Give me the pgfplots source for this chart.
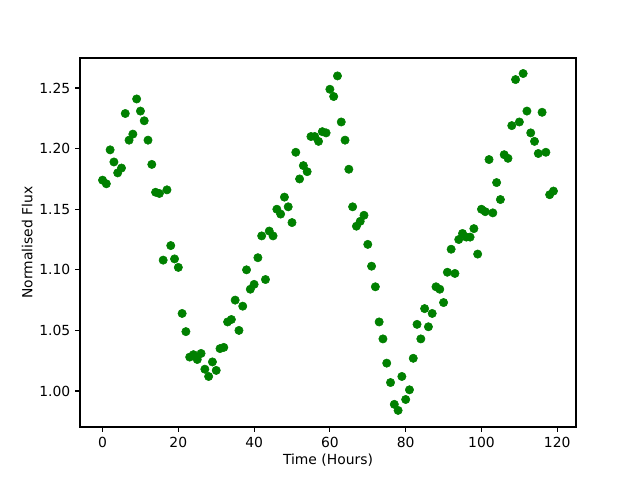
\documentclass[border=0pt]{standalone}
\usepackage{fontspec}
\setmainfont{DejaVu Sans}
\usepackage{pgfplots}
\pgfplotsset{compat=1.18}
\definecolor{mplgreen}{RGB}{0,128,0}
\begin{document}
\begin{tikzpicture}
\begin{axis}[
  at={(0,0)}, anchor=south west,
  scale only axis,
  width=357.12pt, height=265.68pt,
  xmin=-5.95, xmax=124.95,
  ymin=0.9703, ymax=1.2748,
  xtick={0,20,40,60,80,100,120},
  ytick={1.00,1.05,1.10,1.15,1.20,1.25},
  yticklabel style={/pgf/number format/.cd, fixed, fixed zerofill, precision=2},
  /pgf/number format/assume math mode=true,
  tick align=outside,
  tick pos=left,
  major tick length=3.5pt,
  tick style={black, line width=0.8pt},
  axis line style={line width=0.8pt},
  ticklabel style={font=\fontsize{10}{12}\selectfont},
  label style={font=\fontsize{10}{12}\selectfont},
  xlabel={Time (Hours)},
  ylabel={Normalised Flux},
  xlabel style={yshift=2pt},
  ylabel style={yshift=-2pt},
]
\addplot[only marks, mark=*, mark size=3pt, mplgreen, mark options={draw=mplgreen, fill=mplgreen}] table[row sep=\\] {
x y\\
0 1.174\\ 1 1.171\\ 2 1.199\\ 3 1.189\\ 4 1.180\\ 5 1.184\\ 6 1.229\\ 7 1.207\\ 8 1.212\\ 9 1.241\\
10 1.231\\ 11 1.223\\ 12 1.207\\ 13 1.187\\ 14 1.164\\ 15 1.163\\ 16 1.108\\ 17 1.166\\ 18 1.120\\ 19 1.109\\
20 1.102\\ 21 1.064\\ 22 1.049\\ 23 1.028\\ 24 1.030\\ 25 1.026\\ 26 1.031\\ 27 1.018\\ 28 1.012\\ 29 1.024\\
30 1.017\\ 31 1.035\\ 32 1.036\\ 33 1.057\\ 34 1.059\\ 35 1.075\\ 36 1.050\\ 37 1.070\\ 38 1.100\\ 39 1.084\\
40 1.088\\ 41 1.110\\ 42 1.128\\ 43 1.092\\ 44 1.132\\ 45 1.128\\ 46 1.150\\ 47 1.146\\ 48 1.160\\ 49 1.152\\
50 1.139\\ 51 1.197\\ 52 1.175\\ 53 1.186\\ 54 1.181\\ 55 1.210\\ 56 1.210\\ 57 1.206\\ 58 1.214\\ 59 1.213\\
60 1.249\\ 61 1.243\\ 62 1.260\\ 63 1.222\\ 64 1.207\\ 65 1.183\\ 66 1.152\\ 67 1.136\\ 68 1.140\\ 69 1.145\\
70 1.121\\ 71 1.103\\ 72 1.086\\ 73 1.057\\ 74 1.043\\ 75 1.023\\ 76 1.007\\ 77 0.989\\ 78 0.984\\ 79 1.012\\
80 0.993\\ 81 1.001\\ 82 1.027\\ 83 1.055\\ 84 1.043\\ 85 1.068\\ 86 1.053\\ 87 1.064\\ 88 1.086\\ 89 1.084\\
90 1.073\\ 91 1.098\\ 92 1.117\\ 93 1.097\\ 94 1.125\\ 95 1.130\\ 96 1.127\\ 97 1.127\\ 98 1.134\\ 99 1.113\\
100 1.150\\ 101 1.148\\ 102 1.191\\ 103 1.147\\ 104 1.172\\ 105 1.158\\ 106 1.195\\ 107 1.192\\ 108 1.219\\ 109 1.257\\
110 1.222\\ 111 1.262\\ 112 1.231\\ 113 1.213\\ 114 1.206\\ 115 1.196\\ 116 1.230\\ 117 1.197\\ 118 1.162\\ 119 1.165\\
};
\end{axis}
\pgfresetboundingbox
\useasboundingbox (-57.6pt,-38.16pt) rectangle (403.2pt,307.44pt);
\end{tikzpicture}
\end{document}
